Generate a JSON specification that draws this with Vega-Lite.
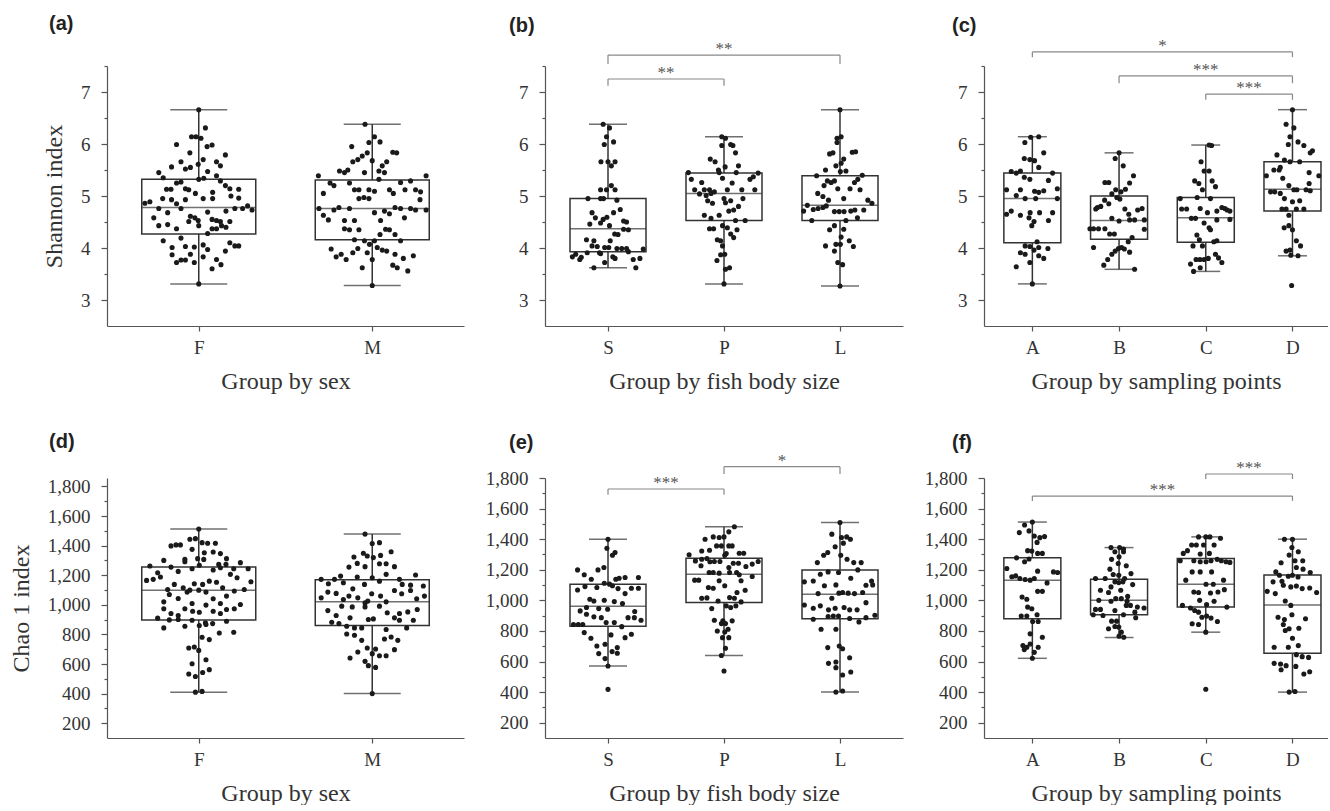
{
"$schema": "https://vega.github.io/schema/vega-lite/v6.json",
"background": "white",
"padding": {"left": 9, "top": 14, "right": 0, "bottom": 0},
"autosize": {"type": "pad"},
"config": {
  "view": {"stroke": null},
  "axis": {"grid": false, "domainColor": "#555", "tickColor": "#555", "labelColor": "#333", "titleColor": "#333",
           "labelFont": "Liberation Serif", "titleFont": "Liberation Serif", "labelFontSize": 19, "titleFontSize": 24,
           "titleFontWeight": "normal", "domainWidth": 1.2, "tickWidth": 1.2, "labelOverlap": false},
  "axisX": {"tickSize": 5, "labelPadding": 7, "titlePadding": 12, "labelAngle": 0, "labelFlush": false},
  "axisY": {"tickSize": 6, "labelPadding": 11, "titlePadding": 14},
  "title": {"anchor": "start", "frame": "group", "font": "Liberation Sans", "fontSize": 20, "fontWeight": "bold", "color": "#222", "baseline": "alphabetic"}
},
"datasets": {
  "box": [
    {"p":"a","g":"F","min":3.31,"q1":4.27,"med":4.78,"q3":5.32,"max":6.66},
    {"p":"a","g":"M","min":3.28,"q1":4.16,"med":4.76,"q3":5.31,"max":6.38},
    {"p":"b","g":"S","min":3.62,"q1":3.93,"med":4.37,"q3":4.95,"max":6.38},
    {"p":"b","g":"P","min":3.31,"q1":4.53,"med":5.05,"q3":5.44,"max":6.14},
    {"p":"b","g":"L","min":3.27,"q1":4.53,"med":4.82,"q3":5.39,"max":6.66},
    {"p":"c","g":"A","min":3.31,"q1":4.10,"med":4.95,"q3":5.44,"max":6.14},
    {"p":"c","g":"B","min":3.59,"q1":4.17,"med":4.53,"q3":5.00,"max":5.83},
    {"p":"c","g":"C","min":3.55,"q1":4.11,"med":4.58,"q3":4.97,"max":5.98},
    {"p":"c","g":"D","min":3.85,"q1":4.71,"med":5.13,"q3":5.66,"max":6.66},
    {"p":"d","g":"F","min":410,"q1":898,"med":1099,"q3":1255,"max":1512},
    {"p":"d","g":"M","min":400,"q1":860,"med":1020,"q3":1170,"max":1478},
    {"p":"e","g":"S","min":571,"q1":831,"med":961,"q3":1105,"max":1400},
    {"p":"e","g":"P","min":639,"q1":986,"med":1171,"q3":1276,"max":1481},
    {"p":"e","g":"L","min":400,"q1":879,"med":1040,"q3":1199,"max":1509},
    {"p":"f","g":"A","min":621,"q1":880,"med":1132,"q3":1278,"max":1512},
    {"p":"f","g":"B","min":757,"q1":906,"med":1000,"q3":1138,"max":1345},
    {"p":"f","g":"C","min":792,"q1":956,"med":1105,"q3":1274,"max":1415},
    {"p":"f","g":"D","min":400,"q1":654,"med":969,"q3":1165,"max":1400}
  ],
  "brk": [
    {"p":"b","a":"S","b":"L","top":7.71,"bot":7.54,"lab":"**"},
    {"p":"b","a":"S","b":"P","top":7.25,"bot":7.12,"lab":"**"},
    {"p":"c","a":"A","b":"D","top":7.77,"bot":7.67,"lab":"*"},
    {"p":"c","a":"B","b":"D","top":7.31,"bot":7.17,"lab":"***"},
    {"p":"c","a":"C","b":"D","top":6.96,"bot":6.85,"lab":"***"},
    {"p":"e","a":"S","b":"P","top":1728,"bot":1691,"lab":"***"},
    {"p":"e","a":"P","b":"L","top":1874,"bot":1826,"lab":"*"},
    {"p":"f","a":"C","b":"D","top":1826,"bot":1793,"lab":"***"},
    {"p":"f","a":"A","b":"D","top":1682,"bot":1650,"lab":"***"}
  ],
  "pa": [
    {"g":"F","v":6.66,"j":0},{"g":"F","v":6.31,"j":0.12},{"g":"F","v":6.14,"j":-0.13},{"g":"F","v":6.14,"j":-0.05},{"g":"F","v":6.11,"j":0.04},
    {"g":"F","v":5.99,"j":-0.4},{"g":"F","v":5.95,"j":0.15},{"g":"F","v":5.98,"j":0.24},{"g":"F","v":5.83,"j":-0.16},{"g":"F","v":5.79,"j":0.48},
    {"g":"F","v":5.66,"j":-0.32},{"g":"F","v":5.7,"j":0.08},{"g":"F","v":5.66,"j":0.32},{"g":"F","v":5.52,"j":-0.24},{"g":"F","v":5.55,"j":-0.15},
    {"g":"F","v":5.61,"j":-0.01},{"g":"F","v":5.58,"j":0.39},{"g":"F","v":5.56,"j":-0.49},{"g":"F","v":5.45,"j":-0.72},{"g":"F","v":5.35,"j":-0.64},
    {"g":"F","v":5.47,"j":0.16},{"g":"F","v":5.39,"j":0.32},{"g":"F","v":5.34,"j":0.09},{"g":"F","v":5.32,"j":0},{"g":"F","v":5.25,"j":-0.4},
    {"g":"F","v":5.27,"j":-0.32},{"g":"F","v":5.29,"j":0.39},{"g":"F","v":5.13,"j":-0.58},{"g":"F","v":5.13,"j":-0.5},{"g":"F","v":5.14,"j":-0.24},
    {"g":"F","v":5.12,"j":-0.18},{"g":"F","v":5.2,"j":0.48},{"g":"F","v":5.14,"j":0.56},{"g":"F","v":5.13,"j":0.72},{"g":"F","v":5.05,"j":-0.06},
    {"g":"F","v":5.07,"j":0.25},{"g":"F","v":4.86,"j":-0.97},{"g":"F","v":4.89,"j":-0.88},{"g":"F","v":4.95,"j":-0.65},{"g":"F","v":4.93,"j":-0.49},
    {"g":"F","v":4.93,"j":-0.24},{"g":"F","v":4.95,"j":0.08},{"g":"F","v":4.95,"j":0.25},{"g":"F","v":5.0,"j":0.58},{"g":"F","v":4.96,"j":0.72},
    {"g":"F","v":4.85,"j":-0.4},{"g":"F","v":4.76,"j":-0.72},{"g":"F","v":4.76,"j":-0.32},{"g":"F","v":4.81,"j":0.88},{"g":"F","v":4.76,"j":0.79},
    {"g":"F","v":4.73,"j":0.96},{"g":"F","v":4.76,"j":0.65},{"g":"F","v":4.68,"j":-0.56},{"g":"F","v":4.69,"j":0.16},{"g":"F","v":4.71,"j":0.49},
    {"g":"F","v":4.58,"j":-0.81},{"g":"F","v":4.61,"j":-0.15},{"g":"F","v":4.58,"j":-0.07},{"g":"F","v":4.51,"j":-0.18},{"g":"F","v":4.53,"j":-0.01},
    {"g":"F","v":4.55,"j":0.24},{"g":"F","v":4.53,"j":0.32},{"g":"F","v":4.51,"j":0.39},{"g":"F","v":4.51,"j":0.56},{"g":"F","v":4.43,"j":-0.72},
    {"g":"F","v":4.45,"j":-0.56},{"g":"F","v":4.43,"j":0},{"g":"F","v":4.37,"j":0.24},{"g":"F","v":4.37,"j":0.32},{"g":"F","v":4.43,"j":0.41},
    {"g":"F","v":4.4,"j":0.49},{"g":"F","v":4.37,"j":-0.4},{"g":"F","v":4.28,"j":0.16},{"g":"F","v":4.19,"j":-0.32},{"g":"F","v":4.14,"j":-0.64},
    {"g":"F","v":4.1,"j":0.56},{"g":"F","v":4.04,"j":0.65},{"g":"F","v":4.04,"j":0.72},{"g":"F","v":4.06,"j":0.08},{"g":"F","v":4.01,"j":-0.48},
    {"g":"F","v":4.03,"j":-0.24},{"g":"F","v":4.02,"j":-0.08},{"g":"F","v":3.97,"j":0.16},{"g":"F","v":3.94,"j":0.48},{"g":"F","v":3.87,"j":-0.48},
    {"g":"F","v":3.88,"j":-0.15},{"g":"F","v":3.83,"j":0.08},{"g":"F","v":3.77,"j":-0.32},{"g":"F","v":3.77,"j":-0.24},{"g":"F","v":3.72,"j":-0.4},
    {"g":"F","v":3.78,"j":0.32},{"g":"F","v":3.72,"j":-0.08},{"g":"F","v":3.68,"j":0.4},{"g":"F","v":3.6,"j":0.24},{"g":"F","v":3.31,"j":0},
    {"g":"M","v":6.38,"j":-0.13},{"g":"M","v":6.14,"j":0.04},{"g":"M","v":6.03,"j":-0.06},{"g":"M","v":6.04,"j":0.14},{"g":"M","v":5.95,"j":-0.37},
    {"g":"M","v":5.83,"j":-0.09},{"g":"M","v":5.77,"j":-0.18},{"g":"M","v":5.83,"j":0.44},{"g":"M","v":5.84,"j":0.37},{"g":"M","v":5.7,"j":-0.26},
    {"g":"M","v":5.68,"j":0},{"g":"M","v":5.66,"j":-0.35},{"g":"M","v":5.66,"j":0.26},{"g":"M","v":5.58,"j":0.18},{"g":"M","v":5.48,"j":-0.59},
    {"g":"M","v":5.45,"j":-0.5},{"g":"M","v":5.5,"j":-0.44},{"g":"M","v":5.45,"j":-0.14},{"g":"M","v":5.48,"j":0.12},{"g":"M","v":5.45,"j":0.22},
    {"g":"M","v":5.39,"j":-0.97},{"g":"M","v":5.39,"j":0.97},{"g":"M","v":5.32,"j":0.12},{"g":"M","v":5.25,"j":-0.76},{"g":"M","v":5.2,"j":-0.69},
    {"g":"M","v":5.25,"j":-0.41},{"g":"M","v":5.26,"j":0.51},{"g":"M","v":5.29,"j":0.69},{"g":"M","v":5.12,"j":-0.32},{"g":"M","v":5.12,"j":-0.24},
    {"g":"M","v":5.12,"j":-0.06},{"g":"M","v":5.09,"j":0.04},{"g":"M","v":5.12,"j":0.31},{"g":"M","v":5.05,"j":0.38},{"g":"M","v":5.12,"j":0.59},
    {"g":"M","v":5.12,"j":0.78},{"g":"M","v":5.08,"j":0.87},{"g":"M","v":5.05,"j":-0.88},{"g":"M","v":4.95,"j":-0.24},{"g":"M","v":4.97,"j":-0.15},
    {"g":"M","v":4.95,"j":-0.06},{"g":"M","v":4.93,"j":0.86},{"g":"M","v":4.76,"j":-0.96},{"g":"M","v":4.78,"j":-0.6},{"g":"M","v":4.73,"j":-0.69},
    {"g":"M","v":4.76,"j":-0.41},{"g":"M","v":4.68,"j":0.04},{"g":"M","v":4.71,"j":0.22},{"g":"M","v":4.66,"j":0.31},{"g":"M","v":4.78,"j":0.41},
    {"g":"M","v":4.76,"j":0.51},{"g":"M","v":4.76,"j":0.69},{"g":"M","v":4.73,"j":0.78},{"g":"M","v":4.73,"j":0.97},{"g":"M","v":4.63,"j":-0.88},
    {"g":"M","v":4.54,"j":-0.79},{"g":"M","v":4.53,"j":-0.5},{"g":"M","v":4.53,"j":-0.32},{"g":"M","v":4.53,"j":0.15},{"g":"M","v":4.58,"j":0.58},
    {"g":"M","v":4.37,"j":-0.5},{"g":"M","v":4.35,"j":-0.41},{"g":"M","v":4.35,"j":-0.24},{"g":"M","v":4.36,"j":0.24},{"g":"M","v":4.35,"j":0.31},
    {"g":"M","v":4.26,"j":0.14},{"g":"M","v":4.26,"j":0.41},{"g":"M","v":4.16,"j":-0.32},{"g":"M","v":4.14,"j":-0.14},{"g":"M","v":4.14,"j":0.04},
    {"g":"M","v":4.14,"j":0.51},{"g":"M","v":4.07,"j":-0.05},{"g":"M","v":4.01,"j":0.09},{"g":"M","v":3.96,"j":0.18},{"g":"M","v":3.98,"j":-0.74},
    {"g":"M","v":3.99,"j":-0.26},{"g":"M","v":3.91,"j":-0.35},{"g":"M","v":3.91,"j":-0.09},{"g":"M","v":3.94,"j":0.26},{"g":"M","v":3.88,"j":-0.56},
    {"g":"M","v":3.88,"j":0.41},{"g":"M","v":3.83,"j":-0.65},{"g":"M","v":3.78,"j":-0.47},{"g":"M","v":3.78,"j":0},{"g":"M","v":3.85,"j":0.74},
    {"g":"M","v":3.8,"j":0.56},{"g":"M","v":3.67,"j":0.37},{"g":"M","v":3.62,"j":0.45},{"g":"M","v":3.62,"j":-0.18},{"g":"M","v":3.56,"j":0.64},
    {"g":"M","v":3.28,"j":0}
  ],
  "pb": [
    {"g":"S","v":6.38,"j":-0.13},{"g":"S","v":6.31,"j":0.04},{"g":"S","v":6.14,"j":-0.04},{"g":"S","v":5.99,"j":-0.1},{"g":"S","v":6.04,"j":0.15},
    {"g":"S","v":5.66,"j":-0.19},{"g":"S","v":5.66,"j":0},{"g":"S","v":5.66,"j":0.19},{"g":"S","v":5.58,"j":0.09},{"g":"S","v":5.2,"j":0.09},
    {"g":"S","v":5.12,"j":-0.04},{"g":"S","v":5.12,"j":-0.2},{"g":"S","v":5.12,"j":0.19},{"g":"S","v":4.95,"j":-0.54},{"g":"S","v":4.95,"j":-0.2},
    {"g":"S","v":4.95,"j":-0.12},{"g":"S","v":4.92,"j":0.24},{"g":"S","v":4.68,"j":-0.43},{"g":"S","v":4.74,"j":0.33},{"g":"S","v":4.68,"j":0.15},
    {"g":"S","v":4.58,"j":-0.34},{"g":"S","v":4.59,"j":-0.03},{"g":"S","v":4.55,"j":-0.13},{"g":"S","v":4.52,"j":0.42},{"g":"S","v":4.5,"j":0.5},
    {"g":"S","v":4.48,"j":-0.2},{"g":"S","v":4.46,"j":-0.49},{"g":"S","v":4.43,"j":0.04},{"g":"S","v":4.36,"j":0.42},{"g":"S","v":4.35,"j":0.55},
    {"g":"S","v":4.27,"j":0.18},{"g":"S","v":4.26,"j":0.27},{"g":"S","v":4.16,"j":-0.58},{"g":"S","v":4.14,"j":-0.38},{"g":"S","v":4.14,"j":0.06},
    {"g":"S","v":4.04,"j":-0.43},{"g":"S","v":4.03,"j":-0.29},{"g":"S","v":4.01,"j":-0.09},{"g":"S","v":4.01,"j":0.02},{"g":"S","v":3.99,"j":0.24},
    {"g":"S","v":3.99,"j":0.37},{"g":"S","v":3.99,"j":0.5},{"g":"S","v":3.98,"j":0.95},{"g":"S","v":3.93,"j":0.55},{"g":"S","v":3.91,"j":-0.56},
    {"g":"S","v":3.91,"j":-0.23},{"g":"S","v":3.89,"j":-0.2},{"g":"S","v":3.88,"j":-0.87},{"g":"S","v":3.82,"j":-0.72},{"g":"S","v":3.83,"j":-0.96},
    {"g":"S","v":3.78,"j":-0.76},{"g":"S","v":3.83,"j":0.13},{"g":"S","v":3.8,"j":0.19},{"g":"S","v":3.78,"j":0.68},{"g":"S","v":3.8,"j":0.86},
    {"g":"S","v":3.72,"j":-0.09},{"g":"S","v":3.62,"j":-0.38},{"g":"S","v":3.62,"j":0.75},
    {"g":"P","v":6.14,"j":-0.06},{"g":"P","v":6.11,"j":0.04},{"g":"P","v":5.97,"j":-0.06},{"g":"P","v":5.99,"j":0.18},{"g":"P","v":5.97,"j":0.24},
    {"g":"P","v":5.83,"j":0.31},{"g":"P","v":5.71,"j":-0.37},{"g":"P","v":5.66,"j":-0.24},{"g":"P","v":5.56,"j":0.03},{"g":"P","v":5.58,"j":0.39},
    {"g":"P","v":5.5,"j":-0.15},{"g":"P","v":5.45,"j":-0.13},{"g":"P","v":5.45,"j":0.33},{"g":"P","v":5.45,"j":-0.96},{"g":"P","v":5.44,"j":0.92},
    {"g":"P","v":5.34,"j":-0.04},{"g":"P","v":5.32,"j":0.7},{"g":"P","v":5.37,"j":0.79},{"g":"P","v":5.32,"j":-0.88},{"g":"P","v":5.26,"j":-0.6},
    {"g":"P","v":5.25,"j":0.22},{"g":"P","v":5.12,"j":-0.79},{"g":"P","v":5.12,"j":-0.53},{"g":"P","v":5.12,"j":-0.39},{"g":"P","v":5.08,"j":-0.26},
    {"g":"P","v":5.12,"j":0.48},{"g":"P","v":5.12,"j":0.83},{"g":"P","v":5.04,"j":-0.66},{"g":"P","v":5.01,"j":-0.48},{"g":"P","v":5.12,"j":0.09},
    {"g":"P","v":5.05,"j":-0.35},{"g":"P","v":4.95,"j":0.51},{"g":"P","v":4.95,"j":0},{"g":"P","v":4.91,"j":-0.44},{"g":"P","v":4.86,"j":-0.31},
    {"g":"P","v":4.87,"j":0.04},{"g":"P","v":4.91,"j":0.18},{"g":"P","v":4.8,"j":0.39},{"g":"P","v":4.73,"j":0.26},{"g":"P","v":4.71,"j":0.13},
    {"g":"P","v":4.63,"j":-0.53},{"g":"P","v":4.63,"j":-0.13},{"g":"P","v":4.57,"j":-0.35},{"g":"P","v":4.53,"j":0.31},{"g":"P","v":4.53,"j":0.57},
    {"g":"P","v":4.37,"j":-0.39},{"g":"P","v":4.37,"j":-0.28},{"g":"P","v":4.43,"j":-0.04},{"g":"P","v":4.39,"j":0.09},{"g":"P","v":4.35,"j":0.35},
    {"g":"P","v":4.27,"j":0.18},{"g":"P","v":4.2,"j":0.26},{"g":"P","v":4.16,"j":-0.18},{"g":"P","v":4.14,"j":-0.09},{"g":"P","v":4.04,"j":-0.04},
    {"g":"P","v":3.87,"j":-0.09},{"g":"P","v":3.88,"j":0.02},{"g":"P","v":3.76,"j":-0.19},{"g":"P","v":3.59,"j":0.04},{"g":"P","v":3.62,"j":0.15},
    {"g":"P","v":3.31,"j":0},
    {"g":"L","v":6.66,"j":0},{"g":"L","v":6.14,"j":0.03},{"g":"L","v":6.11,"j":-0.08},{"g":"L","v":6.03,"j":-0.08},{"g":"L","v":5.84,"j":0.33},
    {"g":"L","v":5.85,"j":0.42},{"g":"L","v":5.81,"j":-0.28},{"g":"L","v":5.83,"j":-0.19},{"g":"L","v":5.71,"j":0.1},{"g":"L","v":5.58,"j":-0.11},
    {"g":"L","v":5.63,"j":0.03},{"g":"L","v":5.5,"j":-0.39},{"g":"L","v":5.47,"j":0.01},{"g":"L","v":5.48,"j":0.16},{"g":"L","v":5.39,"j":-0.63},
    {"g":"L","v":5.4,"j":0.6},{"g":"L","v":5.29,"j":-0.34},{"g":"L","v":5.26,"j":-0.24},{"g":"L","v":5.29,"j":-0.15},{"g":"L","v":5.26,"j":0.39},
    {"g":"L","v":5.32,"j":0.48},{"g":"L","v":5.2,"j":-0.43},{"g":"L","v":5.14,"j":-0.06},{"g":"L","v":5.14,"j":0.27},{"g":"L","v":5.12,"j":0.54},
    {"g":"L","v":5.05,"j":-0.6},{"g":"L","v":4.99,"j":-0.46},{"g":"L","v":4.92,"j":-0.31},{"g":"L","v":4.95,"j":0.1},{"g":"L","v":4.92,"j":0.75},
    {"g":"L","v":4.86,"j":0.86},{"g":"L","v":4.82,"j":-0.88},{"g":"L","v":4.71,"j":-0.98},{"g":"L","v":4.74,"j":-0.72},{"g":"L","v":4.76,"j":-0.59},
    {"g":"L","v":4.78,"j":-0.46},{"g":"L","v":4.81,"j":-0.37},{"g":"L","v":4.7,"j":-0.15},{"g":"L","v":4.7,"j":-0.02},{"g":"L","v":4.7,"j":0.11},
    {"g":"L","v":4.71,"j":0.29},{"g":"L","v":4.73,"j":0.4},{"g":"L","v":4.73,"j":0.64},{"g":"L","v":4.53,"j":-0.76},{"g":"L","v":4.53,"j":0.16},
    {"g":"L","v":4.58,"j":0.47},{"g":"L","v":4.43,"j":-0.15},{"g":"L","v":4.35,"j":-0.28},{"g":"L","v":4.36,"j":0.1},{"g":"L","v":4.21,"j":0.03},
    {"g":"L","v":4.14,"j":0.25},{"g":"L","v":4.04,"j":-0.39},{"g":"L","v":4.07,"j":-0.11},{"g":"L","v":4.07,"j":0.01},{"g":"L","v":4.03,"j":0.36},
    {"g":"L","v":3.94,"j":-0.15},{"g":"L","v":3.72,"j":-0.06},{"g":"L","v":3.68,"j":0.07},{"g":"L","v":3.27,"j":0}
  ],
  "pc": [
    {"g":"A","v":6.13,"j":-0.06},{"g":"A","v":6.14,"j":0.23},{"g":"A","v":6.03,"j":-0.27},{"g":"A","v":5.83,"j":0.41},{"g":"A","v":5.72,"j":-0.29},
    {"g":"A","v":5.7,"j":-0.09},{"g":"A","v":5.68,"j":0.08},{"g":"A","v":5.55,"j":0.23},{"g":"A","v":5.47,"j":-0.76},{"g":"A","v":5.44,"j":-0.58},
    {"g":"A","v":5.48,"j":-0.43},{"g":"A","v":5.44,"j":0.73},{"g":"A","v":5.36,"j":-0.29},{"g":"A","v":5.32,"j":-0.09},{"g":"A","v":5.3,"j":0.58},
    {"g":"A","v":5.12,"j":-0.93},{"g":"A","v":5.12,"j":-0.43},{"g":"A","v":5.09,"j":0.08},{"g":"A","v":5.07,"j":0.23},{"g":"A","v":5.1,"j":0.41},
    {"g":"A","v":5.14,"j":0.9},{"g":"A","v":5.01,"j":-0.58},{"g":"A","v":4.95,"j":-0.26},{"g":"A","v":4.95,"j":0.12},{"g":"A","v":4.95,"j":0.9},
    {"g":"A","v":4.71,"j":-0.76},{"g":"A","v":4.65,"j":-0.93},{"g":"A","v":4.63,"j":-0.43},{"g":"A","v":4.68,"j":-0.08},{"g":"A","v":4.68,"j":0.26},
    {"g":"A","v":4.68,"j":0.73},{"g":"A","v":4.58,"j":-0.12},{"g":"A","v":4.51,"j":0.06},{"g":"A","v":4.43,"j":-0.02},{"g":"A","v":4.53,"j":0.58},
    {"g":"A","v":4.12,"j":0.17},{"g":"A","v":4.04,"j":-0.26},{"g":"A","v":4.03,"j":-0.09},{"g":"A","v":4.01,"j":0.23},{"g":"A","v":3.99,"j":0.56},
    {"g":"A","v":3.96,"j":0.06},{"g":"A","v":3.91,"j":-0.43},{"g":"A","v":3.88,"j":-0.26},{"g":"A","v":3.85,"j":0.23},{"g":"A","v":3.8,"j":0.41},
    {"g":"A","v":3.72,"j":-0.09},{"g":"A","v":3.64,"j":-0.58},{"g":"A","v":3.31,"j":0},
    {"g":"B","v":5.83,"j":0},{"g":"B","v":5.72,"j":-0.14},{"g":"B","v":5.58,"j":0.15},{"g":"B","v":5.39,"j":0.52},{"g":"B","v":5.26,"j":-0.51},
    {"g":"B","v":5.26,"j":-0.37},{"g":"B","v":5.25,"j":0.38},{"g":"B","v":5.12,"j":-0.12},{"g":"B","v":5.08,"j":0.07},{"g":"B","v":5.13,"j":0.23},
    {"g":"B","v":5.04,"j":-0.26},{"g":"B","v":4.97,"j":-0.08},{"g":"B","v":4.94,"j":0.03},{"g":"B","v":4.92,"j":-0.52},{"g":"B","v":4.78,"j":-0.78},
    {"g":"B","v":4.75,"j":-0.84},{"g":"B","v":4.85,"j":-0.37},{"g":"B","v":4.8,"j":-0.66},{"g":"B","v":4.75,"j":0.21},{"g":"B","v":4.76,"j":0.83},
    {"g":"B","v":4.73,"j":0.67},{"g":"B","v":4.65,"j":0.35},{"g":"B","v":4.57,"j":-0.26},{"g":"B","v":4.52,"j":0},{"g":"B","v":4.54,"j":0.38},
    {"g":"B","v":4.54,"j":0.56},{"g":"B","v":4.54,"j":0.91},{"g":"B","v":4.37,"j":-1.05},{"g":"B","v":4.37,"j":-0.92},{"g":"B","v":4.37,"j":-0.74},
    {"g":"B","v":4.37,"j":-0.51},{"g":"B","v":4.36,"j":0.91},{"g":"B","v":4.27,"j":-0.34},{"g":"B","v":4.27,"j":-0.17},{"g":"B","v":4.2,"j":0.47},
    {"g":"B","v":4.12,"j":0.33},{"g":"B","v":4.01,"j":-0.92},{"g":"B","v":3.99,"j":-0.02},{"g":"B","v":4.01,"j":0.09},{"g":"B","v":3.98,"j":0.19},
    {"g":"B","v":3.94,"j":-0.14},{"g":"B","v":3.92,"j":0.38},{"g":"B","v":3.88,"j":-0.26},{"g":"B","v":3.78,"j":-0.41},{"g":"B","v":3.67,"j":-0.55},
    {"g":"B","v":3.59,"j":0.56},
    {"g":"C","v":5.98,"j":0.12},{"g":"C","v":5.97,"j":0.21},{"g":"C","v":5.66,"j":-0.17},{"g":"C","v":5.48,"j":-0.06},{"g":"C","v":5.48,"j":0.12},
    {"g":"C","v":5.29,"j":-0.4},{"g":"C","v":5.24,"j":-0.25},{"g":"C","v":5.29,"j":0.23},{"g":"C","v":5.18,"j":0.35},{"g":"C","v":5.12,"j":-0.12},
    {"g":"C","v":4.95,"j":-0.92},{"g":"C","v":4.97,"j":-0.31},{"g":"C","v":4.95,"j":0.17},{"g":"C","v":4.75,"j":-0.87},{"g":"C","v":4.75,"j":-0.69},
    {"g":"C","v":4.76,"j":-0.2},{"g":"C","v":4.78,"j":0.58},{"g":"C","v":4.76,"j":0.69},{"g":"C","v":4.73,"j":0.77},{"g":"C","v":4.68,"j":0.06},
    {"g":"C","v":4.71,"j":0.4},{"g":"C","v":4.71,"j":0.87},{"g":"C","v":4.57,"j":-0.52},{"g":"C","v":4.57,"j":-0.37},{"g":"C","v":4.55,"j":0.87},
    {"g":"C","v":4.54,"j":0.4},{"g":"C","v":4.48,"j":-0.06},{"g":"C","v":4.39,"j":0.12},{"g":"C","v":4.35,"j":0.17},{"g":"C","v":4.25,"j":-0.32},
    {"g":"C","v":4.16,"j":-0.23},{"g":"C","v":4.12,"j":0.29},{"g":"C","v":4.14,"j":0.4},{"g":"C","v":4.04,"j":-0.46},{"g":"C","v":4.04,"j":-0.12},
    {"g":"C","v":3.88,"j":0.35},{"g":"C","v":3.78,"j":-0.35},{"g":"C","v":3.78,"j":-0.21},{"g":"C","v":3.78,"j":-0.06},{"g":"C","v":3.8,"j":0.09},
    {"g":"C","v":3.81,"j":0.46},{"g":"C","v":3.72,"j":0.58},{"g":"C","v":3.69,"j":-0.55},{"g":"C","v":3.62,"j":-0.2},{"g":"C","v":3.55,"j":-0.44},
    {"g":"D","v":6.66,"j":0},{"g":"D","v":6.38,"j":-0.23},{"g":"D","v":6.31,"j":0.05},{"g":"D","v":6.14,"j":-0.09},{"g":"D","v":6.04,"j":0.2},
    {"g":"D","v":5.99,"j":-0.15},{"g":"D","v":5.97,"j":0.41},{"g":"D","v":5.87,"j":0.72},{"g":"D","v":5.83,"j":0.64},{"g":"D","v":5.79,"j":-0.56},
    {"g":"D","v":5.69,"j":-0.29},{"g":"D","v":5.66,"j":-0.09},{"g":"D","v":5.66,"j":0.26},{"g":"D","v":5.55,"j":-0.44},{"g":"D","v":5.5,"j":-0.67},
    {"g":"D","v":5.5,"j":-0.48},{"g":"D","v":5.45,"j":0.6},{"g":"D","v":5.39,"j":-0.94},{"g":"D","v":5.34,"j":-0.35},{"g":"D","v":5.39,"j":0.95},
    {"g":"D","v":5.24,"j":0.6},{"g":"D","v":5.2,"j":-0.13},{"g":"D","v":5.08,"j":-0.79},{"g":"D","v":5.08,"j":-0.64},{"g":"D","v":5.12,"j":0.05},
    {"g":"D","v":5.12,"j":0.16},{"g":"D","v":5.12,"j":0.49},{"g":"D","v":5.1,"j":0.64},{"g":"D","v":5.05,"j":-0.44},{"g":"D","v":4.95,"j":-0.29},
    {"g":"D","v":4.89,"j":0},{"g":"D","v":4.91,"j":0.26},{"g":"D","v":4.75,"j":0.41},{"g":"D","v":4.75,"j":0.14},{"g":"D","v":4.75,"j":-0.38},
    {"g":"D","v":4.75,"j":-0.23},{"g":"D","v":4.63,"j":-0.13},{"g":"D","v":4.39,"j":-0.3},{"g":"D","v":4.43,"j":-0.13},{"g":"D","v":4.35,"j":0},
    {"g":"D","v":4.14,"j":0.14},{"g":"D","v":4.04,"j":0.29},{"g":"D","v":3.94,"j":-0.23},{"g":"D","v":3.96,"j":-0.09},{"g":"D","v":3.86,"j":-0.06},
    {"g":"D","v":3.85,"j":0.2},{"g":"D","v":3.28,"j":-0.03}
  ],
  "pd": [
    {"g":"F","v":1512,"j":0},{"g":"F","v":1447,"j":-0.06},{"g":"F","v":1443,"j":-0.16},{"g":"F","v":1398,"j":-0.5},{"g":"F","v":1405,"j":-0.41},
    {"g":"F","v":1405,"j":-0.33},{"g":"F","v":1375,"j":-0.12},{"g":"F","v":1420,"j":0.06},{"g":"F","v":1416,"j":0.16},{"g":"F","v":1416,"j":0.3},
    {"g":"F","v":1352,"j":0.1},{"g":"F","v":1357,"j":0.26},{"g":"F","v":1346,"j":0.39},{"g":"F","v":1307,"j":-0.25},{"g":"F","v":1291,"j":-0.25},
    {"g":"F","v":1312,"j":-0.02},{"g":"F","v":1307,"j":0.09},{"g":"F","v":1312,"j":0.5},{"g":"F","v":1300,"j":-0.63},{"g":"F","v":1273,"j":0.36},
    {"g":"F","v":1273,"j":0.49},{"g":"F","v":1285,"j":0.75},{"g":"F","v":1262,"j":-0.88},{"g":"F","v":1255,"j":-0.5},{"g":"F","v":1244,"j":-0.12},
    {"g":"F","v":1267,"j":0.01},{"g":"F","v":1235,"j":0.26},{"g":"F","v":1251,"j":0.39},{"g":"F","v":1244,"j":0.63},{"g":"F","v":1244,"j":0.89},
    {"g":"F","v":1217,"j":-0.74},{"g":"F","v":1226,"j":-0.37},{"g":"F","v":1206,"j":0.57},{"g":"F","v":1165,"j":-0.94},{"g":"F","v":1172,"j":-0.82},
    {"g":"F","v":1188,"j":-0.69},{"g":"F","v":1183,"j":0.69},{"g":"F","v":1156,"j":0.94},{"g":"F","v":1138,"j":-0.44},{"g":"F","v":1142,"j":-0.08},
    {"g":"F","v":1138,"j":0.07},{"g":"F","v":1160,"j":0.19},{"g":"F","v":1153,"j":0.32},{"g":"F","v":1115,"j":-0.28},{"g":"F","v":1104,"j":-0.56},
    {"g":"F","v":1070,"j":-0.53},{"g":"F","v":1086,"j":-0.21},{"g":"F","v":1099,"j":-0.16},{"g":"F","v":1099,"j":0},{"g":"F","v":1086,"j":0.13},
    {"g":"F","v":1115,"j":0.43},{"g":"F","v":1093,"j":0.64},{"g":"F","v":1104,"j":0.82},{"g":"F","v":1043,"j":-0.37},{"g":"F","v":1059,"j":0.5},
    {"g":"F","v":1041,"j":0.26},{"g":"F","v":1020,"j":-0.63},{"g":"F","v":1009,"j":-0.12},{"g":"F","v":998,"j":0.13},{"g":"F","v":1009,"j":0.39},
    {"g":"F","v":1002,"j":0.75},{"g":"F","v":973,"j":-0.63},{"g":"F","v":973,"j":-0.25},{"g":"F","v":957,"j":-0.11},{"g":"F","v":950,"j":0.01},
    {"g":"F","v":957,"j":0.26},{"g":"F","v":941,"j":0.39},{"g":"F","v":968,"j":0.5},{"g":"F","v":973,"j":0.64},{"g":"F","v":941,"j":-0.5},
    {"g":"F","v":928,"j":-0.37},{"g":"F","v":910,"j":-0.74},{"g":"F","v":898,"j":-0.53},{"g":"F","v":901,"j":-0.37},{"g":"F","v":896,"j":-0.12},
    {"g":"F","v":878,"j":0.12},{"g":"F","v":873,"j":0.25},{"g":"F","v":889,"j":0.5},{"g":"F","v":844,"j":-0.63},{"g":"F","v":855,"j":-0.25},
    {"g":"F","v":860,"j":0.01},{"g":"F","v":867,"j":0.13},{"g":"F","v":810,"j":0.37},{"g":"F","v":815,"j":0.63},{"g":"F","v":781,"j":0.06},
    {"g":"F","v":765,"j":0.19},{"g":"F","v":708,"j":-0.18},{"g":"F","v":715,"j":-0.08},{"g":"F","v":692,"j":0},{"g":"F","v":629,"j":0.13},
    {"g":"F","v":602,"j":-0.12},{"g":"F","v":532,"j":-0.18},{"g":"F","v":516,"j":-0.06},{"g":"F","v":543,"j":0.07},{"g":"F","v":562,"j":0.19},
    {"g":"F","v":410,"j":-0.06},{"g":"F","v":415,"j":0.06},
    {"g":"M","v":1478,"j":-0.13},{"g":"M","v":1414,"j":0},{"g":"M","v":1420,"j":0.13},{"g":"M","v":1348,"j":-0.16},{"g":"M","v":1334,"j":0.15},
    {"g":"M","v":1359,"j":0.34},{"g":"M","v":1330,"j":-0.09},{"g":"M","v":1319,"j":0.02},{"g":"M","v":1323,"j":-0.33},{"g":"M","v":1280,"j":-0.27},
    {"g":"M","v":1255,"j":-0.42},{"g":"M","v":1258,"j":-0.13},{"g":"M","v":1278,"j":0.13},{"g":"M","v":1278,"j":0.25},{"g":"M","v":1258,"j":0.4},
    {"g":"M","v":1206,"j":0.25},{"g":"M","v":1194,"j":-0.57},{"g":"M","v":1188,"j":-0.27},{"g":"M","v":1201,"j":0.78},{"g":"M","v":1172,"j":-0.92},
    {"g":"M","v":1172,"j":-0.68},{"g":"M","v":1183,"j":0},{"g":"M","v":1172,"j":0.49},{"g":"M","v":1160,"j":0.13},{"g":"M","v":1142,"j":-0.79},
    {"g":"M","v":1149,"j":-0.52},{"g":"M","v":1138,"j":-0.14},{"g":"M","v":1138,"j":0.54},{"g":"M","v":1133,"j":0.69},{"g":"M","v":1127,"j":0.92},
    {"g":"M","v":1108,"j":-0.35},{"g":"M","v":1086,"j":-0.8},{"g":"M","v":1077,"j":-0.65},{"g":"M","v":1097,"j":0.4},{"g":"M","v":1097,"j":0.69},
    {"g":"M","v":1075,"j":-0.01},{"g":"M","v":1059,"j":-0.42},{"g":"M","v":1059,"j":0.15},{"g":"M","v":1047,"j":-0.26},{"g":"M","v":1075,"j":0.53},
    {"g":"M","v":1047,"j":-0.92},{"g":"M","v":1036,"j":-0.52},{"g":"M","v":1041,"j":0.8},{"g":"M","v":1059,"j":0.94},{"g":"M","v":1013,"j":-0.13},
    {"g":"M","v":1025,"j":-0.08},{"g":"M","v":1020,"j":0.25},{"g":"M","v":991,"j":0.13},{"g":"M","v":986,"j":-0.36},{"g":"M","v":986,"j":-0.13},
    {"g":"M","v":991,"j":-0.55},{"g":"M","v":968,"j":0.81},{"g":"M","v":961,"j":-0.8},{"g":"M","v":952,"j":0.64},{"g":"M","v":928,"j":-0.65},
    {"g":"M","v":946,"j":0.27},{"g":"M","v":941,"j":0.49},{"g":"M","v":912,"j":-0.4},{"g":"M","v":901,"j":-0.07},{"g":"M","v":905,"j":0.02},
    {"g":"M","v":912,"j":0.4},{"g":"M","v":896,"j":0.49},{"g":"M","v":882,"j":-0.73},{"g":"M","v":873,"j":-0.6},{"g":"M","v":896,"j":0.74},
    {"g":"M","v":855,"j":-0.46},{"g":"M","v":844,"j":-0.32},{"g":"M","v":844,"j":-0.19},{"g":"M","v":833,"j":0.25},{"g":"M","v":844,"j":0.62},
    {"g":"M","v":803,"j":-0.46},{"g":"M","v":794,"j":-0.32},{"g":"M","v":760,"j":-0.19},{"g":"M","v":769,"j":0.22},{"g":"M","v":783,"j":0.34},
    {"g":"M","v":760,"j":0.46},{"g":"M","v":681,"j":-0.26},{"g":"M","v":708,"j":-0.09},{"g":"M","v":701,"j":0.06},{"g":"M","v":697,"j":0.4},
    {"g":"M","v":641,"j":-0.4},{"g":"M","v":670,"j":0},{"g":"M","v":656,"j":0.13},{"g":"M","v":656,"j":0.25},{"g":"M","v":618,"j":-0.13},
    {"g":"M","v":589,"j":-0.07},{"g":"M","v":577,"j":0.06},{"g":"M","v":400,"j":0}
  ],
  "pe": [
    {"g":"S","v":1400,"j":0},{"g":"S","v":1341,"j":-0.03},{"g":"S","v":1295,"j":0.12},{"g":"S","v":1313,"j":0.19},{"g":"S","v":1215,"j":-0.11},
    {"g":"S","v":1199,"j":-0.82},{"g":"S","v":1199,"j":-0.27},{"g":"S","v":1167,"j":-0.64},{"g":"S","v":1138,"j":-0.45},{"g":"S","v":1138,"j":0.21},
    {"g":"S","v":1145,"j":0.3},{"g":"S","v":1149,"j":0.46},{"g":"S","v":1149,"j":0.82},{"g":"S","v":1112,"j":-0.1},{"g":"S","v":1106,"j":0.04},
    {"g":"S","v":1095,"j":0.12},{"g":"S","v":1090,"j":-0.62},{"g":"S","v":1068,"j":-0.82},{"g":"S","v":1084,"j":-0.3},{"g":"S","v":1079,"j":0.63},
    {"g":"S","v":1079,"j":0.82},{"g":"S","v":1044,"j":0.46},{"g":"S","v":1077,"j":0.27},{"g":"S","v":1007,"j":-0.49},{"g":"S","v":996,"j":-0.38},
    {"g":"S","v":1001,"j":-0.1},{"g":"S","v":992,"j":0.17},{"g":"S","v":979,"j":0.39},{"g":"S","v":953,"j":-0.58},{"g":"S","v":946,"j":-0.25},
    {"g":"S","v":942,"j":-0.01},{"g":"S","v":931,"j":-0.75},{"g":"S","v":927,"j":0.72},{"g":"S","v":909,"j":-0.58},{"g":"S","v":892,"j":-0.38},
    {"g":"S","v":887,"j":-0.18},{"g":"S","v":887,"j":0.54},{"g":"S","v":887,"j":0.71},{"g":"S","v":870,"j":0.89},{"g":"S","v":855,"j":-0.05},
    {"g":"S","v":855,"j":0.17},{"g":"S","v":842,"j":-0.93},{"g":"S","v":842,"j":-0.8},{"g":"S","v":842,"j":-0.68},{"g":"S","v":828,"j":0.37},
    {"g":"S","v":789,"j":-0.64},{"g":"S","v":778,"j":0.63},{"g":"S","v":752,"j":-0.46},{"g":"S","v":774,"j":0.08},{"g":"S","v":756,"j":0.46},
    {"g":"S","v":713,"j":-0.08},{"g":"S","v":702,"j":-0.3},{"g":"S","v":691,"j":0.25},{"g":"S","v":652,"j":-0.25},{"g":"S","v":665,"j":0.11},
    {"g":"S","v":654,"j":0.25},{"g":"S","v":619,"j":-0.08},{"g":"S","v":571,"j":0},{"g":"S","v":418,"j":0},
    {"g":"P","v":1481,"j":0.28},{"g":"P","v":1448,"j":0.13},{"g":"P","v":1415,"j":-0.29},{"g":"P","v":1411,"j":-0.13},{"g":"P","v":1415,"j":0},
    {"g":"P","v":1400,"j":-0.51},{"g":"P","v":1356,"j":-0.2},{"g":"P","v":1356,"j":-0.07},{"g":"P","v":1356,"j":0.13},{"g":"P","v":1356,"j":0.22},
    {"g":"P","v":1328,"j":-0.39},{"g":"P","v":1323,"j":-0.6},{"g":"P","v":1308,"j":0.41},{"g":"P","v":1308,"j":0.53},{"g":"P","v":1298,"j":-0.94},
    {"g":"P","v":1295,"j":0.02},{"g":"P","v":1306,"j":0.06},{"g":"P","v":1258,"j":-0.77},{"g":"P","v":1252,"j":-0.38},{"g":"P","v":1254,"j":-0.26},
    {"g":"P","v":1254,"j":-0.11},{"g":"P","v":1269,"j":-0.6},{"g":"P","v":1274,"j":-0.46},{"g":"P","v":1243,"j":0.25},{"g":"P","v":1243,"j":0.39},
    {"g":"P","v":1254,"j":0.92},{"g":"P","v":1237,"j":0.76},{"g":"P","v":1215,"j":0.13},{"g":"P","v":1226,"j":-0.62},{"g":"P","v":1221,"j":0.59},
    {"g":"P","v":1132,"j":-0.79},{"g":"P","v":1132,"j":-0.68},{"g":"P","v":1182,"j":-0.4},{"g":"P","v":1182,"j":-0.29},{"g":"P","v":1178,"j":-0.13},
    {"g":"P","v":1182,"j":0.15},{"g":"P","v":1182,"j":0.34},{"g":"P","v":1167,"j":0.41},{"g":"P","v":1156,"j":0.76},{"g":"P","v":1128,"j":-0.13},
    {"g":"P","v":1128,"j":0.46},{"g":"P","v":1084,"j":-0.42},{"g":"P","v":1079,"j":-0.29},{"g":"P","v":1095,"j":0.02},{"g":"P","v":1051,"j":0.35},
    {"g":"P","v":1066,"j":0.57},{"g":"P","v":1014,"j":-0.6},{"g":"P","v":1016,"j":-0.46},{"g":"P","v":996,"j":-0.16},{"g":"P","v":1018,"j":0.15},
    {"g":"P","v":1014,"j":0.28},{"g":"P","v":990,"j":0.46},{"g":"P","v":946,"j":-0.33},{"g":"P","v":964,"j":0.06},{"g":"P","v":953,"j":0.18},
    {"g":"P","v":964,"j":0.32},{"g":"P","v":870,"j":-0.26},{"g":"P","v":866,"j":-0.03},{"g":"P","v":848,"j":-0.07},{"g":"P","v":848,"j":0.04},
    {"g":"P","v":866,"j":0.22},{"g":"P","v":800,"j":-0.18},{"g":"P","v":793,"j":0.02},{"g":"P","v":811,"j":0.11},{"g":"P","v":756,"j":-0.04},
    {"g":"P","v":756,"j":0.13},{"g":"P","v":687,"j":0.04},{"g":"P","v":639,"j":-0.07},{"g":"P","v":538,"j":0},
    {"g":"L","v":1509,"j":0},{"g":"L","v":1433,"j":-0.22},{"g":"L","v":1411,"j":0.04},{"g":"L","v":1415,"j":0.18},{"g":"L","v":1400,"j":0.28},
    {"g":"L","v":1374,"j":0.09},{"g":"L","v":1350,"j":-0.13},{"g":"L","v":1313,"j":-0.33},{"g":"L","v":1295,"j":-0.44},{"g":"L","v":1295,"j":0.02},
    {"g":"L","v":1247,"j":-0.61},{"g":"L","v":1269,"j":0.19},{"g":"L","v":1247,"j":0.37},{"g":"L","v":1247,"j":0.57},{"g":"L","v":1199,"j":0.48},
    {"g":"L","v":1171,"j":-0.53},{"g":"L","v":1186,"j":-0.32},{"g":"L","v":1182,"j":-0.04},{"g":"L","v":1121,"j":-0.96},{"g":"L","v":1127,"j":-0.72},
    {"g":"L","v":1145,"j":0.29},{"g":"L","v":1127,"j":0.85},{"g":"L","v":1095,"j":-0.42},{"g":"L","v":1101,"j":-0.11},{"g":"L","v":1099,"j":0.7},
    {"g":"L","v":1101,"j":0.88},{"g":"L","v":1044,"j":-0.59},{"g":"L","v":1014,"j":-0.22},{"g":"L","v":1047,"j":-0.03},{"g":"L","v":1051,"j":0.07},
    {"g":"L","v":1047,"j":0.22},{"g":"L","v":1044,"j":0.39},{"g":"L","v":1051,"j":0.61},{"g":"L","v":970,"j":-0.96},{"g":"L","v":948,"j":-0.72},
    {"g":"L","v":964,"j":-0.53},{"g":"L","v":938,"j":-0.31},{"g":"L","v":948,"j":-0.13},{"g":"L","v":953,"j":0.11},{"g":"L","v":938,"j":0.26},
    {"g":"L","v":938,"j":0.46},{"g":"L","v":985,"j":0.7},{"g":"L","v":903,"j":0.94},{"g":"L","v":876,"j":-0.72},{"g":"L","v":894,"j":-0.32},
    {"g":"L","v":898,"j":-0.18},{"g":"L","v":898,"j":-0.04},{"g":"L","v":881,"j":0.26},{"g":"L","v":859,"j":0.51},{"g":"L","v":887,"j":0.7},
    {"g":"L","v":811,"j":-0.51},{"g":"L","v":811,"j":-0.11},{"g":"L","v":691,"j":-0.33},{"g":"L","v":702,"j":-0.02},{"g":"L","v":684,"j":0.07},
    {"g":"L","v":625,"j":0.26},{"g":"L","v":588,"j":-0.31},{"g":"L","v":597,"j":-0.11},{"g":"L","v":560,"j":-0.11},{"g":"L","v":512,"j":0.07},
    {"g":"L","v":532,"j":0.29},{"g":"L","v":400,"j":-0.11},{"g":"L","v":407,"j":0.07}
  ],
  "pf": [
    {"g":"A","v":1512,"j":0},{"g":"A","v":1493,"j":-0.28},{"g":"A","v":1454,"j":-0.12},{"g":"A","v":1443,"j":-0.47},{"g":"A","v":1421,"j":0.07},
    {"g":"A","v":1410,"j":0.27},{"g":"A","v":1417,"j":0.44},{"g":"A","v":1379,"j":0.17},{"g":"A","v":1325,"j":-0.17},{"g":"A","v":1322,"j":-0.02},
    {"g":"A","v":1307,"j":0.19},{"g":"A","v":1307,"j":0.36},{"g":"A","v":1278,"j":-0.57},{"g":"A","v":1270,"j":-0.12},{"g":"A","v":1252,"j":-0.28},
    {"g":"A","v":1208,"j":-0.92},{"g":"A","v":1191,"j":0.19},{"g":"A","v":1186,"j":0.76},{"g":"A","v":1182,"j":0.91},{"g":"A","v":1154,"j":-0.74},
    {"g":"A","v":1160,"j":-0.6},{"g":"A","v":1143,"j":-0.45},{"g":"A","v":1136,"j":-0.26},{"g":"A","v":1132,"j":-0.08},{"g":"A","v":1143,"j":0.07},
    {"g":"A","v":1114,"j":0.53},{"g":"A","v":1059,"j":0.19},{"g":"A","v":1059,"j":0.36},{"g":"A","v":1022,"j":-0.37},{"g":"A","v":1007,"j":-0.2},
    {"g":"A","v":956,"j":-0.17},{"g":"A","v":945,"j":-0.02},{"g":"A","v":897,"j":-0.4},{"g":"A","v":897,"j":-0.2},{"g":"A","v":906,"j":0.17},
    {"g":"A","v":862,"j":0.01},{"g":"A","v":862,"j":0.21},{"g":"A","v":781,"j":-0.08},{"g":"A","v":759,"j":0.36},{"g":"A","v":704,"j":-0.34},
    {"g":"A","v":693,"j":-0.2},{"g":"A","v":715,"j":-0.08},{"g":"A","v":693,"j":0.21},{"g":"A","v":678,"j":-0.29},{"g":"A","v":660,"j":0.07},
    {"g":"A","v":621,"j":0},
    {"g":"B","v":1345,"j":-0.29},{"g":"B","v":1345,"j":0.02},{"g":"B","v":1335,"j":0.16},{"g":"B","v":1318,"j":-0.15},{"g":"B","v":1318,"j":0.16},
    {"g":"B","v":1285,"j":0},{"g":"B","v":1268,"j":-0.27},{"g":"B","v":1241,"j":-0.03},{"g":"B","v":1226,"j":0.26},{"g":"B","v":1204,"j":-0.33},
    {"g":"B","v":1175,"j":0.43},{"g":"B","v":1169,"j":-0.21},{"g":"B","v":1164,"j":-0.01},{"g":"B","v":1143,"j":-0.5},{"g":"B","v":1143,"j":-0.85},
    {"g":"B","v":1143,"j":0.2},{"g":"B","v":1121,"j":-0.15},{"g":"B","v":1116,"j":-0.01},{"g":"B","v":1121,"j":0.14},{"g":"B","v":1103,"j":0.49},
    {"g":"B","v":1088,"j":-0.29},{"g":"B","v":1066,"j":-0.67},{"g":"B","v":1051,"j":-0.38},{"g":"B","v":1066,"j":0.06},{"g":"B","v":1011,"j":-0.12},
    {"g":"B","v":1011,"j":0.08},{"g":"B","v":1026,"j":0.31},{"g":"B","v":1000,"j":-0.73},{"g":"B","v":994,"j":-0.29},{"g":"B","v":994,"j":0.29},
    {"g":"B","v":967,"j":0.26},{"g":"B","v":967,"j":0.41},{"g":"B","v":956,"j":0.66},{"g":"B","v":950,"j":0.9},{"g":"B","v":941,"j":-0.85},
    {"g":"B","v":941,"j":-0.67},{"g":"B","v":934,"j":-0.15},{"g":"B","v":923,"j":0.57},{"g":"B","v":906,"j":-0.93},{"g":"B","v":901,"j":-0.58},
    {"g":"B","v":906,"j":0.16},{"g":"B","v":886,"j":0.6},{"g":"B","v":864,"j":-0.27},{"g":"B","v":864,"j":-0.09},{"g":"B","v":814,"j":-0.38},
    {"g":"B","v":829,"j":-0.15},{"g":"B","v":825,"j":-0.01},{"g":"B","v":792,"j":0.08},{"g":"B","v":766,"j":0},{"g":"B","v":759,"j":0.17},
    {"g":"C","v":1415,"j":-0.26},{"g":"C","v":1415,"j":0},{"g":"C","v":1415,"j":0.15},{"g":"C","v":1406,"j":0.53},{"g":"C","v":1362,"j":-0.51},
    {"g":"C","v":1362,"j":-0.34},{"g":"C","v":1362,"j":-0.08},{"g":"C","v":1362,"j":0.3},{"g":"C","v":1325,"j":-0.66},{"g":"C","v":1307,"j":-0.81},
    {"g":"C","v":1303,"j":-0.2},{"g":"C","v":1307,"j":0.13},{"g":"C","v":1259,"j":-0.92},{"g":"C","v":1259,"j":-0.43},{"g":"C","v":1252,"j":-0.2},
    {"g":"C","v":1252,"j":0.01},{"g":"C","v":1259,"j":0.19},{"g":"C","v":1268,"j":0.41},{"g":"C","v":1259,"j":0.56},{"g":"C","v":1252,"j":0.73},
    {"g":"C","v":1248,"j":0.87},{"g":"C","v":1186,"j":-0.49},{"g":"C","v":1186,"j":-0.2},{"g":"C","v":1186,"j":0.21},{"g":"C","v":1132,"j":-0.72},
    {"g":"C","v":1132,"j":0.64},{"g":"C","v":1055,"j":-0.43},{"g":"C","v":1051,"j":-0.26},{"g":"C","v":1105,"j":0.01},{"g":"C","v":1105,"j":0.27},
    {"g":"C","v":1055,"j":0.44},{"g":"C","v":1070,"j":0.67},{"g":"C","v":1048,"j":0.17},{"g":"C","v":1000,"j":-0.22},{"g":"C","v":994,"j":0.3},
    {"g":"C","v":972,"j":0.03},{"g":"C","v":967,"j":-0.84},{"g":"C","v":950,"j":-0.55},{"g":"C","v":934,"j":-0.4},{"g":"C","v":923,"j":-0.26},
    {"g":"C","v":956,"j":0.76},{"g":"C","v":890,"j":-0.14},{"g":"C","v":897,"j":0.03},{"g":"C","v":884,"j":0.19},{"g":"C","v":862,"j":0.42},
    {"g":"C","v":847,"j":-0.49},{"g":"C","v":842,"j":-0.26},{"g":"C","v":792,"j":0},{"g":"C","v":419,"j":0},
    {"g":"D","v":1400,"j":-0.29},{"g":"D","v":1400,"j":0},{"g":"D","v":1346,"j":-0.02},{"g":"D","v":1318,"j":0.21},{"g":"D","v":1296,"j":-0.12},
    {"g":"D","v":1246,"j":-0.41},{"g":"D","v":1259,"j":0.09},{"g":"D","v":1259,"j":0.37},{"g":"D","v":1215,"j":0.14},{"g":"D","v":1204,"j":0.38},
    {"g":"D","v":1182,"j":0.64},{"g":"D","v":1186,"j":-0.6},{"g":"D","v":1164,"j":-0.47},{"g":"D","v":1158,"j":-0.15},{"g":"D","v":1164,"j":0},
    {"g":"D","v":1153,"j":0.2},{"g":"D","v":1125,"j":-0.38},{"g":"D","v":1099,"j":-0.33},{"g":"D","v":1121,"j":-0.7},{"g":"D","v":1088,"j":-0.06},
    {"g":"D","v":1094,"j":0.14},{"g":"D","v":1077,"j":0.35},{"g":"D","v":1081,"j":0.62},{"g":"D","v":1051,"j":0.87},{"g":"D","v":1059,"j":-0.91},
    {"g":"D","v":1044,"j":-0.62},{"g":"D","v":996,"j":-0.26},{"g":"D","v":967,"j":-0.06},{"g":"D","v":890,"j":-0.52},{"g":"D","v":875,"j":-0.29},
    {"g":"D","v":906,"j":-0.02},{"g":"D","v":880,"j":0.47},{"g":"D","v":842,"j":-0.33},{"g":"D","v":814,"j":-0.12},{"g":"D","v":818,"j":0.23},
    {"g":"D","v":803,"j":-0.26},{"g":"D","v":752,"j":0},{"g":"D","v":693,"j":-0.66},{"g":"D","v":693,"j":-0.15},{"g":"D","v":704,"j":0.21},
    {"g":"D","v":645,"j":0.14},{"g":"D","v":632,"j":0.35},{"g":"D","v":627,"j":0.58},{"g":"D","v":588,"j":-0.66},{"g":"D","v":584,"j":-0.43},
    {"g":"D","v":573,"j":-0.23},{"g":"D","v":546,"j":-0.41},{"g":"D","v":568,"j":0.12},{"g":"D","v":518,"j":0.41},{"g":"D","v":533,"j":0.62},
    {"g":"D","v":400,"j":-0.12},{"g":"D","v":404,"j":0.09}
  ]
},
"columns": 3,
"spacing": {"row": 152, "column": 81},
"bounds": "flush",
"align": "each",
"concat": [
  {
    "width": 357, "height": 260,
    "title": {"text": "(a)", "dx": -58, "offset": 31},
    "resolve": {"axis": {"y": "independent"}},
    "layer": [
      {"data": {"name": "box"},
       "transform": [{"filter": "datum.p === 'a'"}, {"calculate": "indexof(['F','M'], datum.g)", "as": "x"}],
       "encoding": {"x": {"field": "x", "type": "quantitative", "scale": {"domain": [-0.5, 1.5], "nice": false, "zero": false},
                          "axis": {"values": [0, 1], "labelExpr": "['F','M'][datum.value]", "title": "Group by sex"}}},
       "layer": [
         {"mark": {"type": "rule", "color": "#333", "strokeWidth": 1.5},
          "encoding": {"y": {"field": "min", "type": "quantitative", "scale": {"domain": [2.5, 7.5], "nice": false, "zero": false},
                             "axis": {"values": [3, 4, 5, 6, 7], "title": "Shannon index"}},
                       "y2": {"field": "max"}}},
         {"mark": {"type": "bar", "width": 114, "fill": "white", "stroke": "#333", "strokeWidth": 1.5},
          "encoding": {"y": {"field": "q1", "type": "quantitative", "scale": {"domain": [2.5, 7.5]}}, "y2": {"field": "q3"}}},
         {"mark": {"type": "tick", "orient": "horizontal", "size": 114, "thickness": 1.5, "color": "#333"},
          "encoding": {"y": {"field": "med", "type": "quantitative", "scale": {"domain": [2.5, 7.5]}}}},
         {"mark": {"type": "tick", "orient": "horizontal", "size": 57, "thickness": 1.5, "color": "#333"},
          "encoding": {"y": {"field": "min", "type": "quantitative", "scale": {"domain": [2.5, 7.5]}}}},
         {"mark": {"type": "tick", "orient": "horizontal", "size": 57, "thickness": 1.5, "color": "#333"},
          "encoding": {"y": {"field": "max", "type": "quantitative", "scale": {"domain": [2.5, 7.5]}}}}
       ]},
      {"data": {"name": "pa"},
       "transform": [{"calculate": "indexof(['F','M'], datum.g) + datum.j * 0.32", "as": "x"}],
       "mark": {"type": "circle", "size": 26, "color": "#1a1a1a", "opacity": 1},
       "encoding": {"x": {"field": "x", "type": "quantitative", "scale": {"domain": [-0.5, 1.5]}},
                    "y": {"field": "v", "type": "quantitative", "scale": {"domain": [2.5, 7.5]},
                          "axis": {"orient": "left", "values": [3.5, 4.5, 5.5, 6.5, 7.5], "labels": false, "domain": false, "tickSize": 3, "title": null}}}}
    ]
  },
  {
    "width": 358, "height": 260,
    "title": {"text": "(b)", "dx": -36, "offset": 4},
    "resolve": {"axis": {"y": "independent"}},
    "layer": [
      {"data": {"name": "box"},
       "transform": [{"filter": "datum.p === 'b'"}, {"calculate": "indexof(['S','P','L'], datum.g)", "as": "x"}],
       "encoding": {"x": {"field": "x", "type": "quantitative", "scale": {"domain": [-0.5, 2.5], "nice": false, "zero": false},
                          "axis": {"values": [0, 1, 2], "labelExpr": "['S','P','L'][datum.value]", "title": "Group by fish body size"}}},
       "layer": [
         {"mark": {"type": "rule", "color": "#333", "strokeWidth": 1.5},
          "encoding": {"y": {"field": "min", "type": "quantitative", "scale": {"domain": [2.5, 7.5], "nice": false, "zero": false},
                             "axis": {"values": [3, 4, 5, 6, 7], "title": null}},
                       "y2": {"field": "max"}}},
         {"mark": {"type": "bar", "width": 76, "fill": "white", "stroke": "#333", "strokeWidth": 1.5},
          "encoding": {"y": {"field": "q1", "type": "quantitative", "scale": {"domain": [2.5, 7.5]}}, "y2": {"field": "q3"}}},
         {"mark": {"type": "tick", "orient": "horizontal", "size": 76, "thickness": 1.5, "color": "#333"},
          "encoding": {"y": {"field": "med", "type": "quantitative", "scale": {"domain": [2.5, 7.5]}}}},
         {"mark": {"type": "tick", "orient": "horizontal", "size": 38, "thickness": 1.5, "color": "#333"},
          "encoding": {"y": {"field": "min", "type": "quantitative", "scale": {"domain": [2.5, 7.5]}}}},
         {"mark": {"type": "tick", "orient": "horizontal", "size": 38, "thickness": 1.5, "color": "#333"},
          "encoding": {"y": {"field": "max", "type": "quantitative", "scale": {"domain": [2.5, 7.5]}}}}
       ]},
      {"data": {"name": "pb"},
       "transform": [{"calculate": "indexof(['S','P','L'], datum.g) + datum.j * 0.32", "as": "x"}],
       "mark": {"type": "circle", "size": 26, "color": "#1a1a1a", "opacity": 1},
       "encoding": {"x": {"field": "x", "type": "quantitative", "scale": {"domain": [-0.5, 2.5]}},
                    "y": {"field": "v", "type": "quantitative", "scale": {"domain": [2.5, 7.5]},
                          "axis": {"orient": "left", "values": [3.5, 4.5, 5.5, 6.5, 7.5], "labels": false, "domain": false, "tickSize": 3, "title": null}}}},
      {"data": {"name": "brk"},
       "transform": [{"filter": "datum.p === 'b'"},
                     {"calculate": "indexof(['S','P','L'], datum.a)", "as": "xa"},
                     {"calculate": "indexof(['S','P','L'], datum.b)", "as": "xb"},
                     {"calculate": "(datum.xa + datum.xb) / 2", "as": "xm"}],
       "layer": [
         {"mark": {"type": "rule", "color": "#888", "strokeWidth": 1.2},
          "encoding": {"x": {"field": "xa", "type": "quantitative", "scale": {"domain": [-0.5, 2.5]}}, "x2": {"field": "xb"},
                       "y": {"field": "top", "type": "quantitative", "scale": {"domain": [2.5, 7.5]}, "axis": null}}},
         {"mark": {"type": "rule", "color": "#888", "strokeWidth": 1.2},
          "encoding": {"x": {"field": "xa", "type": "quantitative", "scale": {"domain": [-0.5, 2.5]}},
                       "y": {"field": "top", "type": "quantitative", "scale": {"domain": [2.5, 7.5]}, "axis": null}, "y2": {"field": "bot"}}},
         {"mark": {"type": "rule", "color": "#888", "strokeWidth": 1.2},
          "encoding": {"x": {"field": "xb", "type": "quantitative", "scale": {"domain": [-0.5, 2.5]}},
                       "y": {"field": "top", "type": "quantitative", "scale": {"domain": [2.5, 7.5]}, "axis": null}, "y2": {"field": "bot"}}},
         {"mark": {"type": "text", "font": "Liberation Serif", "fontSize": 17, "color": "#555", "baseline": "alphabetic", "dy": -1},
          "encoding": {"x": {"field": "xm", "type": "quantitative", "scale": {"domain": [-0.5, 2.5]}},
                       "y": {"field": "top", "type": "quantitative", "scale": {"domain": [2.5, 7.5]}, "axis": null}, "text": {"field": "lab"}}}
       ]}
    ]
  },
  {
    "width": 344, "height": 260,
    "title": {"text": "(c)", "dx": -32, "offset": 1},
    "resolve": {"axis": {"y": "independent"}},
    "layer": [
      {"data": {"name": "box"},
       "transform": [{"filter": "datum.p === 'c'"}, {"calculate": "indexof(['A','B','C','D'], datum.g)", "as": "x"}],
       "encoding": {"x": {"field": "x", "type": "quantitative", "scale": {"domain": [-0.5, 3.352], "nice": false, "zero": false},
                          "axis": {"values": [0, 1, 2, 3], "labelExpr": "['A','B','C','D'][datum.value]", "title": "Group by sampling points"}}},
       "layer": [
         {"mark": {"type": "rule", "color": "#333", "strokeWidth": 1.5},
          "encoding": {"y": {"field": "min", "type": "quantitative", "scale": {"domain": [2.5, 7.5], "nice": false, "zero": false},
                             "axis": {"values": [3, 4, 5, 6, 7], "title": null}},
                       "y2": {"field": "max"}}},
         {"mark": {"type": "bar", "width": 57, "fill": "white", "stroke": "#333", "strokeWidth": 1.5},
          "encoding": {"y": {"field": "q1", "type": "quantitative", "scale": {"domain": [2.5, 7.5]}}, "y2": {"field": "q3"}}},
         {"mark": {"type": "tick", "orient": "horizontal", "size": 57, "thickness": 1.5, "color": "#333"},
          "encoding": {"y": {"field": "med", "type": "quantitative", "scale": {"domain": [2.5, 7.5]}}}},
         {"mark": {"type": "tick", "orient": "horizontal", "size": 29, "thickness": 1.5, "color": "#333"},
          "encoding": {"y": {"field": "min", "type": "quantitative", "scale": {"domain": [2.5, 7.5]}}}},
         {"mark": {"type": "tick", "orient": "horizontal", "size": 29, "thickness": 1.5, "color": "#333"},
          "encoding": {"y": {"field": "max", "type": "quantitative", "scale": {"domain": [2.5, 7.5]}}}}
       ]},
      {"data": {"name": "pc"},
       "transform": [{"calculate": "indexof(['A','B','C','D'], datum.g) + datum.j * 0.32", "as": "x"}],
       "mark": {"type": "circle", "size": 26, "color": "#1a1a1a", "opacity": 1},
       "encoding": {"x": {"field": "x", "type": "quantitative", "scale": {"domain": [-0.5, 3.352]}},
                    "y": {"field": "v", "type": "quantitative", "scale": {"domain": [2.5, 7.5]},
                          "axis": {"orient": "left", "values": [3.5, 4.5, 5.5, 6.5, 7.5], "labels": false, "domain": false, "tickSize": 3, "title": null}}}},
      {"data": {"name": "brk"},
       "transform": [{"filter": "datum.p === 'c'"},
                     {"calculate": "indexof(['A','B','C','D'], datum.a)", "as": "xa"},
                     {"calculate": "indexof(['A','B','C','D'], datum.b)", "as": "xb"},
                     {"calculate": "(datum.xa + datum.xb) / 2", "as": "xm"}],
       "layer": [
         {"mark": {"type": "rule", "color": "#888", "strokeWidth": 1.2},
          "encoding": {"x": {"field": "xa", "type": "quantitative", "scale": {"domain": [-0.5, 3.352]}}, "x2": {"field": "xb"},
                       "y": {"field": "top", "type": "quantitative", "scale": {"domain": [2.5, 7.5]}, "axis": null}}},
         {"mark": {"type": "rule", "color": "#888", "strokeWidth": 1.2},
          "encoding": {"x": {"field": "xa", "type": "quantitative", "scale": {"domain": [-0.5, 3.352]}},
                       "y": {"field": "top", "type": "quantitative", "scale": {"domain": [2.5, 7.5]}, "axis": null}, "y2": {"field": "bot"}}},
         {"mark": {"type": "rule", "color": "#888", "strokeWidth": 1.2},
          "encoding": {"x": {"field": "xb", "type": "quantitative", "scale": {"domain": [-0.5, 3.352]}},
                       "y": {"field": "top", "type": "quantitative", "scale": {"domain": [2.5, 7.5]}, "axis": null}, "y2": {"field": "bot"}}},
         {"mark": {"type": "text", "font": "Liberation Serif", "fontSize": 17, "color": "#555", "baseline": "alphabetic", "dy": -1},
          "encoding": {"x": {"field": "xm", "type": "quantitative", "scale": {"domain": [-0.5, 3.352]}},
                       "y": {"field": "top", "type": "quantitative", "scale": {"domain": [2.5, 7.5]}, "axis": null}, "text": {"field": "lab"}}}
       ]}
    ]
  },
  {
    "width": 357, "height": 260,
    "title": {"text": "(d)", "dx": -58, "offset": 25},
    "resolve": {"axis": {"y": "independent"}},
    "layer": [
      {"data": {"name": "box"},
       "transform": [{"filter": "datum.p === 'd'"}, {"calculate": "indexof(['F','M'], datum.g)", "as": "x"}],
       "encoding": {"x": {"field": "x", "type": "quantitative", "scale": {"domain": [-0.5, 1.5], "nice": false, "zero": false},
                          "axis": {"values": [0, 1], "labelExpr": "['F','M'][datum.value]", "title": "Group by sex"}}},
       "layer": [
         {"mark": {"type": "rule", "color": "#333", "strokeWidth": 1.5},
          "encoding": {"y": {"field": "min", "type": "quantitative", "scale": {"domain": [100, 1857], "nice": false, "zero": false},
                             "axis": {"values": [200, 600, 1000, 1400, 1800], "labelExpr": "format(datum.value, ',')", "title": "Chao 1 index"}},
                       "y2": {"field": "max"}}},
         {"mark": {"type": "bar", "width": 114, "fill": "white", "stroke": "#333", "strokeWidth": 1.5},
          "encoding": {"y": {"field": "q1", "type": "quantitative", "scale": {"domain": [100, 1857]}}, "y2": {"field": "q3"}}},
         {"mark": {"type": "tick", "orient": "horizontal", "size": 114, "thickness": 1.5, "color": "#333"},
          "encoding": {"y": {"field": "med", "type": "quantitative", "scale": {"domain": [100, 1857]}}}},
         {"mark": {"type": "tick", "orient": "horizontal", "size": 57, "thickness": 1.5, "color": "#333"},
          "encoding": {"y": {"field": "min", "type": "quantitative", "scale": {"domain": [100, 1857]}}}}
       ]},
      {"data": {"name": "box"},
       "transform": [{"filter": "datum.p === 'd'"}, {"calculate": "indexof(['F','M'], datum.g)", "as": "x"}],
       "mark": {"type": "tick", "orient": "horizontal", "size": 57, "thickness": 1.5, "color": "#333"},
       "encoding": {"x": {"field": "x", "type": "quantitative", "scale": {"domain": [-0.5, 1.5]}},
                    "y": {"field": "max", "type": "quantitative", "scale": {"domain": [100, 1857]},
                          "axis": {"orient": "left", "values": [300, 500, 700, 900, 1100, 1300, 1500, 1700], "labels": false, "domain": false, "tickSize": 3, "title": null}}}},
      {"data": {"name": "pd"},
       "transform": [{"calculate": "indexof(['F','M'], datum.g) + datum.j * 0.32", "as": "x"}],
       "mark": {"type": "circle", "size": 26, "color": "#1a1a1a", "opacity": 1},
       "encoding": {"x": {"field": "x", "type": "quantitative", "scale": {"domain": [-0.5, 1.5]}},
                    "y": {"field": "v", "type": "quantitative", "scale": {"domain": [100, 1857]},
                          "axis": {"orient": "left", "values": [400, 800, 1200, 1600], "labelExpr": "format(datum.value, ',')", "domain": false, "title": null}}}}
    ]
  },
  {
    "width": 358, "height": 260,
    "title": {"text": "(e)", "dx": -36, "offset": -1},
    "resolve": {"axis": {"y": "independent"}},
    "layer": [
      {"data": {"name": "box"},
       "transform": [{"filter": "datum.p === 'e'"}, {"calculate": "indexof(['S','P','L'], datum.g)", "as": "x"}],
       "encoding": {"x": {"field": "x", "type": "quantitative", "scale": {"domain": [-0.5, 2.5], "nice": false, "zero": false},
                          "axis": {"values": [0, 1, 2], "labelExpr": "['S','P','L'][datum.value]", "title": "Group by fish body size"}}},
       "layer": [
         {"mark": {"type": "rule", "color": "#333", "strokeWidth": 1.5},
          "encoding": {"y": {"field": "min", "type": "quantitative", "scale": {"domain": [100, 1800], "nice": false, "zero": false},
                             "axis": {"values": [200, 600, 1000, 1400, 1800], "labelExpr": "format(datum.value, ',')", "title": null}},
                       "y2": {"field": "max"}}},
         {"mark": {"type": "bar", "width": 76, "fill": "white", "stroke": "#333", "strokeWidth": 1.5},
          "encoding": {"y": {"field": "q1", "type": "quantitative", "scale": {"domain": [100, 1800]}}, "y2": {"field": "q3"}}},
         {"mark": {"type": "tick", "orient": "horizontal", "size": 76, "thickness": 1.5, "color": "#333"},
          "encoding": {"y": {"field": "med", "type": "quantitative", "scale": {"domain": [100, 1800]}}}},
         {"mark": {"type": "tick", "orient": "horizontal", "size": 38, "thickness": 1.5, "color": "#333"},
          "encoding": {"y": {"field": "min", "type": "quantitative", "scale": {"domain": [100, 1800]}}}}
       ]},
      {"data": {"name": "box"},
       "transform": [{"filter": "datum.p === 'e'"}, {"calculate": "indexof(['S','P','L'], datum.g)", "as": "x"}],
       "mark": {"type": "tick", "orient": "horizontal", "size": 38, "thickness": 1.5, "color": "#333"},
       "encoding": {"x": {"field": "x", "type": "quantitative", "scale": {"domain": [-0.5, 2.5]}},
                    "y": {"field": "max", "type": "quantitative", "scale": {"domain": [100, 1800]},
                          "axis": {"orient": "left", "values": [300, 500, 700, 900, 1100, 1300, 1500, 1700], "labels": false, "domain": false, "tickSize": 3, "title": null}}}},
      {"data": {"name": "pe"},
       "transform": [{"calculate": "indexof(['S','P','L'], datum.g) + datum.j * 0.32", "as": "x"}],
       "mark": {"type": "circle", "size": 26, "color": "#1a1a1a", "opacity": 1},
       "encoding": {"x": {"field": "x", "type": "quantitative", "scale": {"domain": [-0.5, 2.5]}},
                    "y": {"field": "v", "type": "quantitative", "scale": {"domain": [100, 1800]},
                          "axis": {"orient": "left", "values": [400, 800, 1200, 1600], "labelExpr": "format(datum.value, ',')", "domain": false, "title": null}}}},
      {"data": {"name": "brk"},
       "transform": [{"filter": "datum.p === 'e'"},
                     {"calculate": "indexof(['S','P','L'], datum.a)", "as": "xa"},
                     {"calculate": "indexof(['S','P','L'], datum.b)", "as": "xb"},
                     {"calculate": "(datum.xa + datum.xb) / 2", "as": "xm"}],
       "layer": [
         {"mark": {"type": "rule", "color": "#888", "strokeWidth": 1.2},
          "encoding": {"x": {"field": "xa", "type": "quantitative", "scale": {"domain": [-0.5, 2.5]}}, "x2": {"field": "xb"},
                       "y": {"field": "top", "type": "quantitative", "scale": {"domain": [100, 1800]}, "axis": null}}},
         {"mark": {"type": "rule", "color": "#888", "strokeWidth": 1.2},
          "encoding": {"x": {"field": "xa", "type": "quantitative", "scale": {"domain": [-0.5, 2.5]}},
                       "y": {"field": "top", "type": "quantitative", "scale": {"domain": [100, 1800]}, "axis": null}, "y2": {"field": "bot"}}},
         {"mark": {"type": "rule", "color": "#888", "strokeWidth": 1.2},
          "encoding": {"x": {"field": "xb", "type": "quantitative", "scale": {"domain": [-0.5, 2.5]}},
                       "y": {"field": "top", "type": "quantitative", "scale": {"domain": [100, 1800]}, "axis": null}, "y2": {"field": "bot"}}},
         {"mark": {"type": "text", "font": "Liberation Serif", "fontSize": 17, "color": "#555", "baseline": "alphabetic", "dy": -1},
          "encoding": {"x": {"field": "xm", "type": "quantitative", "scale": {"domain": [-0.5, 2.5]}},
                       "y": {"field": "top", "type": "quantitative", "scale": {"domain": [100, 1800]}, "axis": null}, "text": {"field": "lab"}}}
       ]}
    ]
  },
  {
    "width": 344, "height": 260,
    "title": {"text": "(f)", "dx": -32, "offset": 6},
    "resolve": {"axis": {"y": "independent"}},
    "layer": [
      {"data": {"name": "box"},
       "transform": [{"filter": "datum.p === 'f'"}, {"calculate": "indexof(['A','B','C','D'], datum.g)", "as": "x"}],
       "encoding": {"x": {"field": "x", "type": "quantitative", "scale": {"domain": [-0.5, 3.352], "nice": false, "zero": false},
                          "axis": {"values": [0, 1, 2, 3], "labelExpr": "['A','B','C','D'][datum.value]", "title": "Group by sampling points"}}},
       "layer": [
         {"mark": {"type": "rule", "color": "#333", "strokeWidth": 1.5},
          "encoding": {"y": {"field": "min", "type": "quantitative", "scale": {"domain": [100, 1800], "nice": false, "zero": false},
                             "axis": {"values": [200, 600, 1000, 1400, 1800], "labelExpr": "format(datum.value, ',')", "title": null}},
                       "y2": {"field": "max"}}},
         {"mark": {"type": "bar", "width": 57, "fill": "white", "stroke": "#333", "strokeWidth": 1.5},
          "encoding": {"y": {"field": "q1", "type": "quantitative", "scale": {"domain": [100, 1800]}}, "y2": {"field": "q3"}}},
         {"mark": {"type": "tick", "orient": "horizontal", "size": 57, "thickness": 1.5, "color": "#333"},
          "encoding": {"y": {"field": "med", "type": "quantitative", "scale": {"domain": [100, 1800]}}}},
         {"mark": {"type": "tick", "orient": "horizontal", "size": 29, "thickness": 1.5, "color": "#333"},
          "encoding": {"y": {"field": "min", "type": "quantitative", "scale": {"domain": [100, 1800]}}}}
       ]},
      {"data": {"name": "box"},
       "transform": [{"filter": "datum.p === 'f'"}, {"calculate": "indexof(['A','B','C','D'], datum.g)", "as": "x"}],
       "mark": {"type": "tick", "orient": "horizontal", "size": 29, "thickness": 1.5, "color": "#333"},
       "encoding": {"x": {"field": "x", "type": "quantitative", "scale": {"domain": [-0.5, 3.352]}},
                    "y": {"field": "max", "type": "quantitative", "scale": {"domain": [100, 1800]},
                          "axis": {"orient": "left", "values": [300, 500, 700, 900, 1100, 1300, 1500, 1700], "labels": false, "domain": false, "tickSize": 3, "title": null}}}},
      {"data": {"name": "pf"},
       "transform": [{"calculate": "indexof(['A','B','C','D'], datum.g) + datum.j * 0.32", "as": "x"}],
       "mark": {"type": "circle", "size": 26, "color": "#1a1a1a", "opacity": 1},
       "encoding": {"x": {"field": "x", "type": "quantitative", "scale": {"domain": [-0.5, 3.352]}},
                    "y": {"field": "v", "type": "quantitative", "scale": {"domain": [100, 1800]},
                          "axis": {"orient": "left", "values": [400, 800, 1200, 1600], "labelExpr": "format(datum.value, ',')", "domain": false, "title": null}}}},
      {"data": {"name": "brk"},
       "transform": [{"filter": "datum.p === 'f'"},
                     {"calculate": "indexof(['A','B','C','D'], datum.a)", "as": "xa"},
                     {"calculate": "indexof(['A','B','C','D'], datum.b)", "as": "xb"},
                     {"calculate": "(datum.xa + datum.xb) / 2", "as": "xm"}],
       "layer": [
         {"mark": {"type": "rule", "color": "#888", "strokeWidth": 1.2},
          "encoding": {"x": {"field": "xa", "type": "quantitative", "scale": {"domain": [-0.5, 3.352]}}, "x2": {"field": "xb"},
                       "y": {"field": "top", "type": "quantitative", "scale": {"domain": [100, 1800]}, "axis": null}}},
         {"mark": {"type": "rule", "color": "#888", "strokeWidth": 1.2},
          "encoding": {"x": {"field": "xa", "type": "quantitative", "scale": {"domain": [-0.5, 3.352]}},
                       "y": {"field": "top", "type": "quantitative", "scale": {"domain": [100, 1800]}, "axis": null}, "y2": {"field": "bot"}}},
         {"mark": {"type": "rule", "color": "#888", "strokeWidth": 1.2},
          "encoding": {"x": {"field": "xb", "type": "quantitative", "scale": {"domain": [-0.5, 3.352]}},
                       "y": {"field": "top", "type": "quantitative", "scale": {"domain": [100, 1800]}, "axis": null}, "y2": {"field": "bot"}}},
         {"mark": {"type": "text", "font": "Liberation Serif", "fontSize": 17, "color": "#555", "baseline": "alphabetic", "dy": -1},
          "encoding": {"x": {"field": "xm", "type": "quantitative", "scale": {"domain": [-0.5, 3.352]}},
                       "y": {"field": "top", "type": "quantitative", "scale": {"domain": [100, 1800]}, "axis": null}, "text": {"field": "lab"}}}
       ]}
    ]
  }
]
}
